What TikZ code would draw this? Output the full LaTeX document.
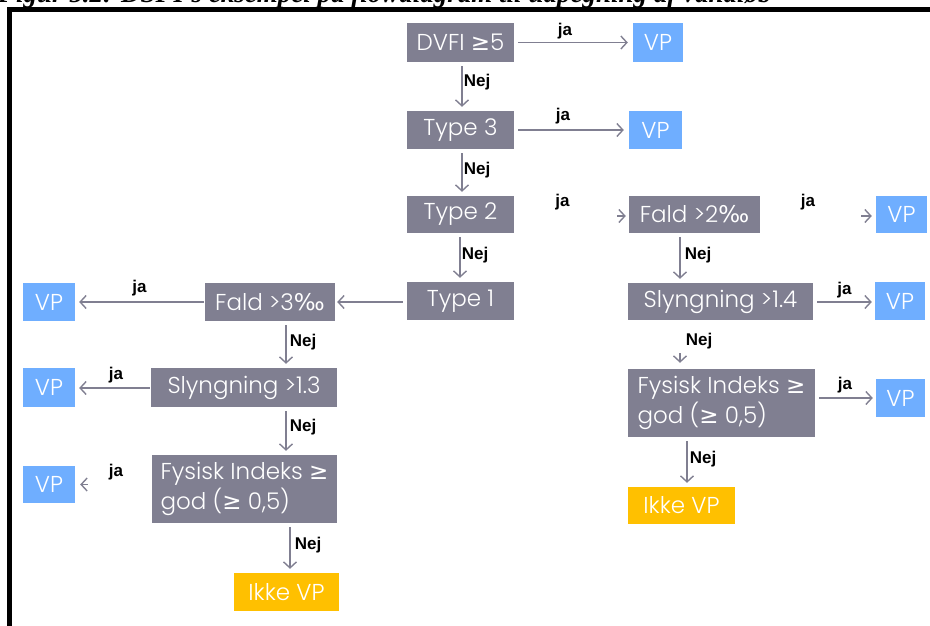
\documentclass[tikz,border=0pt]{standalone}
\usepackage{fontspec}
\setmainfont{Poppins}[UprightFont={* Light}]
\newfontfamily\symf{DejaVu Sans}
\newfontfamily\labf{Liberation Sans}
\newfontfamily\capf{Liberation Serif}
\usetikzlibrary{arrows.meta}
\definecolor{boxgray}{RGB}{128,127,145}
\definecolor{vpblue}{RGB}{111,174,255}
\definecolor{ikkeor}{RGB}{255,192,0}
\definecolor{arrgray}{RGB}{128,127,145}
\newcommand{\gesym}{{\symf ≥}}
\newcommand{\pmil}{{\symf ‰}}
\begin{document}
\begin{tikzpicture}[x=1pt,y=-1pt,
  every node/.style={inner sep=0pt},
  dec/.style={fill=boxgray, text=white, font=\fontsize{23}{30}\selectfont, minimum height=38pt},
  vp/.style={fill=vpblue, text=white, font=\fontsize{23}{30}\selectfont, minimum height=38pt, minimum width=51pt},
  ikke/.style={fill=ikkeor, text=white, font=\fontsize{23}{30}\selectfont, minimum height=38pt, minimum width=106pt},
  arr/.style={draw=arrgray, line width=1.4pt, -{Straight Barb[length=6pt,width=13pt]}, shorten <=4pt, shorten >=4pt},
  lab/.style={font=\labf\bfseries\fontsize{17}{17}\selectfont, text=black}
]
\useasboundingbox (0,0) rectangle (930,625);
% caption (cut off at the top) and frame
\node[anchor=base west, font=\capf\bfseries\itshape\fontsize{27}{27}\selectfont] (cap) at (-2,2)
  {Figur 5.2: DSFI's eksempel på flowdiagram til udpegning af vandløb};
\draw[line width=5pt] (9.5,630) -- (9.5,9.5) -- (940,9.5);

% centre column
\node[dec, minimum width=107pt, minimum height=39pt] (dvfi) at (460.5,42.5) {DVFI \gesym5};
\node[vp, minimum width=50pt, minimum height=39pt] (vp1) at (658,42.5) {VP};
\node[dec, minimum width=107pt] (t3) at (460.5,130) {Type 3};
\node[vp, minimum width=53pt] (vp2) at (655.5,130) {VP};
\node[dec, minimum width=107pt, minimum height=37pt] (t2) at (460.5,214.5) {Type 2};
\node[dec, minimum width=107pt] (t1) at (460.5,301) {Type 1};

% right column
\node[dec, minimum width=131pt, minimum height=37pt] (f2) at (694.5,214.5) {Fald >2\pmil};
\node[vp, minimum height=37pt] (vp3) at (901.5,214.5) {VP};
\node[dec, minimum width=185pt, minimum height=37pt] (s14) at (720.5,301.5) {Slyngning >1.4};
\node[vp, minimum width=50pt] (vp4) at (900,301) {VP};
\node[dec, minimum width=187pt, minimum height=68pt, align=left] (fi2) at (721.5,403)
  {Fysisk Indeks \gesym\\god (\gesym\ 0,5)};
\node[vp, minimum width=49pt] (vp5) at (900.5,398) {VP};
\node[ikke, minimum width=107pt, minimum height=37pt] (ik2) at (681.5,505.5) {Ikke VP};

% left column
\node[vp, minimum width=52pt] (vpl1) at (49,302) {VP};
\node[dec, minimum width=130pt] (f3) at (270,302) {Fald >3\pmil};
\node[vp, minimum width=52pt, minimum height=39pt] (vpl2) at (49,387.5) {VP};
\node[dec, minimum width=186pt, minimum height=39pt] (s13) at (244,387.5) {Slyngning >1.3};
\node[vp, minimum width=52pt, minimum height=37pt] (vpl3) at (49,484.5) {VP};
\node[dec, minimum width=185pt, minimum height=68pt, align=left] (fi1) at (244.5,489)
  {Fysisk Indeks \gesym\\god (\gesym\ 0,5)};
\node[ikke, minimum width=105pt] (ik1) at (286.5,592) {Ikke VP};

% connectors: centre
\draw[arr, shorten >=5pt] (dvfi) -- (vp1);
\draw[arr, shorten >=5pt] (t3) -- (vp2);
\draw[arr] (dvfi.south -| 462,0) -- (t3.north -| 462,0);
\draw[arr] (t3.south -| 462,0) -- (t2.north -| 462,0);
\draw[arr] (t2.south -| 460,0) -- (t1.north -| 460,0);
\draw[arr, shorten <=103pt, shorten >=3pt] (t2.east |- 0,216) -- (f2.west |- 0,216);
\draw[arr, shorten >=2pt] (t1.west |- 0,302) -- (f3.east |- 0,302);

% connectors: right
\draw[arr, shorten <=101pt, shorten >=4pt] (f2.east |- 0,216) -- (vp3.west |- 0,216);
\draw[arr] (f2.south -| 680,0) -- (s14.north -| 680,0);
\draw[arr, shorten >=3pt] (s14.east |- 0,302) -- (vp4.west |- 0,302);
\draw[arr, shorten <=33pt, shorten >=6pt] (s14.south -| 680,0) -- (fi2.north -| 680,0);
\draw[arr, shorten >=3pt] (fi2.east |- vp5.west) -- (vp5.west);
\draw[arr] (fi2.south -| 687,0) -- (ik2.north -| 687,0);

% connectors: left
\draw[arr, shorten <=1pt] (f3.west |- 0,302) -- (vpl1.east |- 0,302);
\draw[arr] (f3.south -| 286,0) -- (s13.north -| 286,0);
\draw[arr, shorten <=1pt] (s13.west |- 0,388) -- (vpl2.east |- 0,388);
\draw[arr] (s13.south -| 286,0) -- (fi1.north -| 286,0);
\draw[arr, shorten <=64pt, shorten >=5pt] (fi1.west |- vpl3.east) -- (vpl3.east);
\draw[arr] (fi1.south -| 290,0) -- (ik1.north -| 290,0);

% labels
\node[lab] (l1) at (565,31) {ja};
\node[lab] (l2) at (563,116.5) {ja};
\node[lab] (l3) at (562.5,202.5) {ja};
\node[lab] (l4) at (808,202) {ja};
\node[lab] (l5) at (844.5,290) {ja};
\node[lab] (l6) at (845,385) {ja};
\node[lab] (l7) at (139.5,288) {ja};
\node[lab] (l8) at (116,375) {ja};
\node[lab] (l9) at (116,472) {ja};
\node[lab] (n1) at (477,82) {Nej};
\node[lab] (n2) at (477,170) {Nej};
\node[lab] (n3) at (475,255) {Nej};
\node[lab] (n4) at (698,255) {Nej};
\node[lab] (n5) at (699,341) {Nej};
\node[lab] (n6) at (703,459) {Nej};
\node[lab] (n7) at (303,342) {Nej};
\node[lab] (n8) at (303,427) {Nej};
\node[lab] (n9) at (308,545) {Nej};
\end{tikzpicture}
\end{document}
